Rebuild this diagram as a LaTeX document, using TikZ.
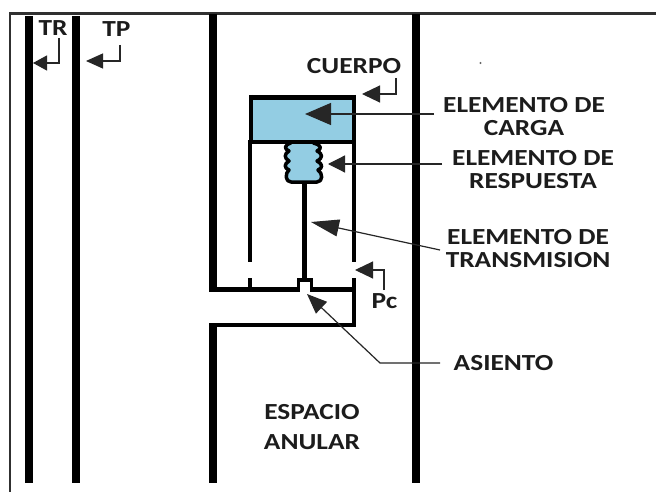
\documentclass[tikz,border=0pt]{standalone}
\usepackage{fontspec}
\setmainfont{Carlito}[FakeStretch=1.19]
\usetikzlibrary{arrows.meta}
\definecolor{fillblue}{HTML}{93CDE3}
\definecolor{framegray}{HTML}{303030}
\definecolor{inktext}{HTML}{1C1C1C}
\definecolor{leadgray}{HTML}{262626}
\tikzset{
  wall/.style={line width=8pt,black},
  inner/.style={line width=4pt,black,line cap=butt},
  leader/.style={line width=1.2pt,leadgray},
  lbl/.style={font=\bfseries\fontsize{23}{23}\selectfont,text=inktext,align=center,inner sep=0pt}
}
\begin{document}
\begin{tikzpicture}[x=1pt,y=-1pt]
\useasboundingbox (0,0) rectangle (656,492);
\fill[white] (0,0) rectangle (656,492);
\draw[line width=2.5pt,framegray] (10,492) -- (10,13.5) -- (656,13.5);
\fill[black!60] (480.5,63) circle (1.2pt);
% tubes
\draw[wall] (29,16) -- (29,483);
\draw[wall] (76,16) -- (76,483);
\draw[wall] (213,14) -- (213,292);
\draw[wall] (213,323) -- (213,483);
\draw[wall] (416,14) -- (416,483);
% mandrel
\draw[line width=5pt] (209,289.5) -- (356,289.5);
\draw[line width=4.5pt] (209,325) -- (356,325);
\draw[inner] (354,278) -- (354,327);
% load element
\fill[fillblue] (251,98) rectangle (353,141);
\fill[fillblue] (291,141) rectangle (314,179);
\draw[line width=5pt] (250.5,97.5) -- (353.5,97.5);
\draw[line width=4.5pt] (248,142) -- (356,142);
\draw[inner] (250.5,95) -- (250.5,142);
\draw[inner] (354,95) -- (354,142);
% bellows
\draw[line width=3.5pt,fill=fillblue,line join=round] (291,143)
  .. controls (284,145) and (284,149) .. (289,151)
  .. controls (284,154) and (284,158) .. (289,161)
  .. controls (284,164) and (284,168) .. (289,170)
  .. controls (285,173) and (285,182) .. (291,182)
  -- (317,182)
  .. controls (323,182) and (323,173) .. (318,170)
  .. controls (323,168) and (323,164) .. (317,161)
  .. controls (323,158) and (323,154) .. (317,151)
  .. controls (322,149) and (322,145) .. (313,143);
\fill[fillblue] (293,140.5) rectangle (311,144.5);
\draw[line width=4.5pt] (248,142) -- (356,142);
\fill[fillblue] (292,144) rectangle (312,146);
% side walls of capsule
\draw[inner] (250,142) -- (250,262);
\draw[inner] (250,278) -- (250,289);
\draw[inner] (354,142) -- (354,262);
% stem and seat
\draw[line width=4.5pt] (304.5,183) -- (304.5,280);
\draw[line width=3.5pt,line join=miter] (298.5,291) -- (298.5,280) -- (311.5,280) -- (311.5,291);
\fill[white] (300.3,282) rectangle (309.7,293);
% labels
\node[lbl] (tr) at (53,28) {TR};
\node[lbl] (tp) at (116.5,29) {TP};
\node[lbl] (cu) at (354,66) {CUERPO};
\node[lbl] (pc) at (384.5,301) {Pc};
\node[lbl] (ec) at (524,116.5) {ELEMENTO DE\\CARGA};
\node[lbl] (er) at (533,169.5) {ELEMENTO DE\\RESPUESTA};
\node[lbl] (et) at (528,248.5) {ELEMENTO DE\\TRANSMISION};
\node[lbl] (as) at (503.5,363) {ASIENTO};
\node[lbl] (ea) at (312,427) {ESPACIO\\[7pt]ANULAR};
% free ends of leaders
\coordinate (trS) at (59,38);
\coordinate (tpS) at (120,45);
\coordinate (cuS) at (396,78);
\coordinate (pcS) at (384,290);
\coordinate (trA) at (33,63);
\coordinate (tpA) at (86,61);
\coordinate (cuA) at (362,94);
\coordinate (pcA) at (355,270);
\coordinate (ecS) at (434,114);
\coordinate (ecA) at (305,114);
\coordinate (erS) at (442,164);
\coordinate (erA) at (328,164);
\coordinate (etS) at (440,250);
\coordinate (etA) at (311,222);
\coordinate (asS) at (440,363);
\coordinate (asK) at (380,363);
\coordinate (asA) at (307,294);
\draw[leader,-{Triangle[length=14pt,width=15pt]}] (trS) |- (trA);
\draw[leader,-{Triangle[length=17pt,width=15pt]}] (tpS) |- (tpA);
\draw[leader,-{Triangle[length=18pt,width=17pt]}] (cuS) |- (cuA);
\draw[leader,-{Triangle[length=18pt,width=17pt]}] (pcS) |- (pcA);
\draw[leader,-{Triangle[length=26pt,width=22pt]}] (ecS) -- (ecA);
\draw[leader,-{Triangle[length=17pt,width=17pt]}] (erS) -- (erA);
\draw[leader,-{Triangle[length=28pt,width=17pt]}] (etS) -- (etA);
\draw[leader,-{Triangle[length=20pt,width=16pt]}] (asS) -- (asK) -- (asA);
\end{tikzpicture}
\end{document}
